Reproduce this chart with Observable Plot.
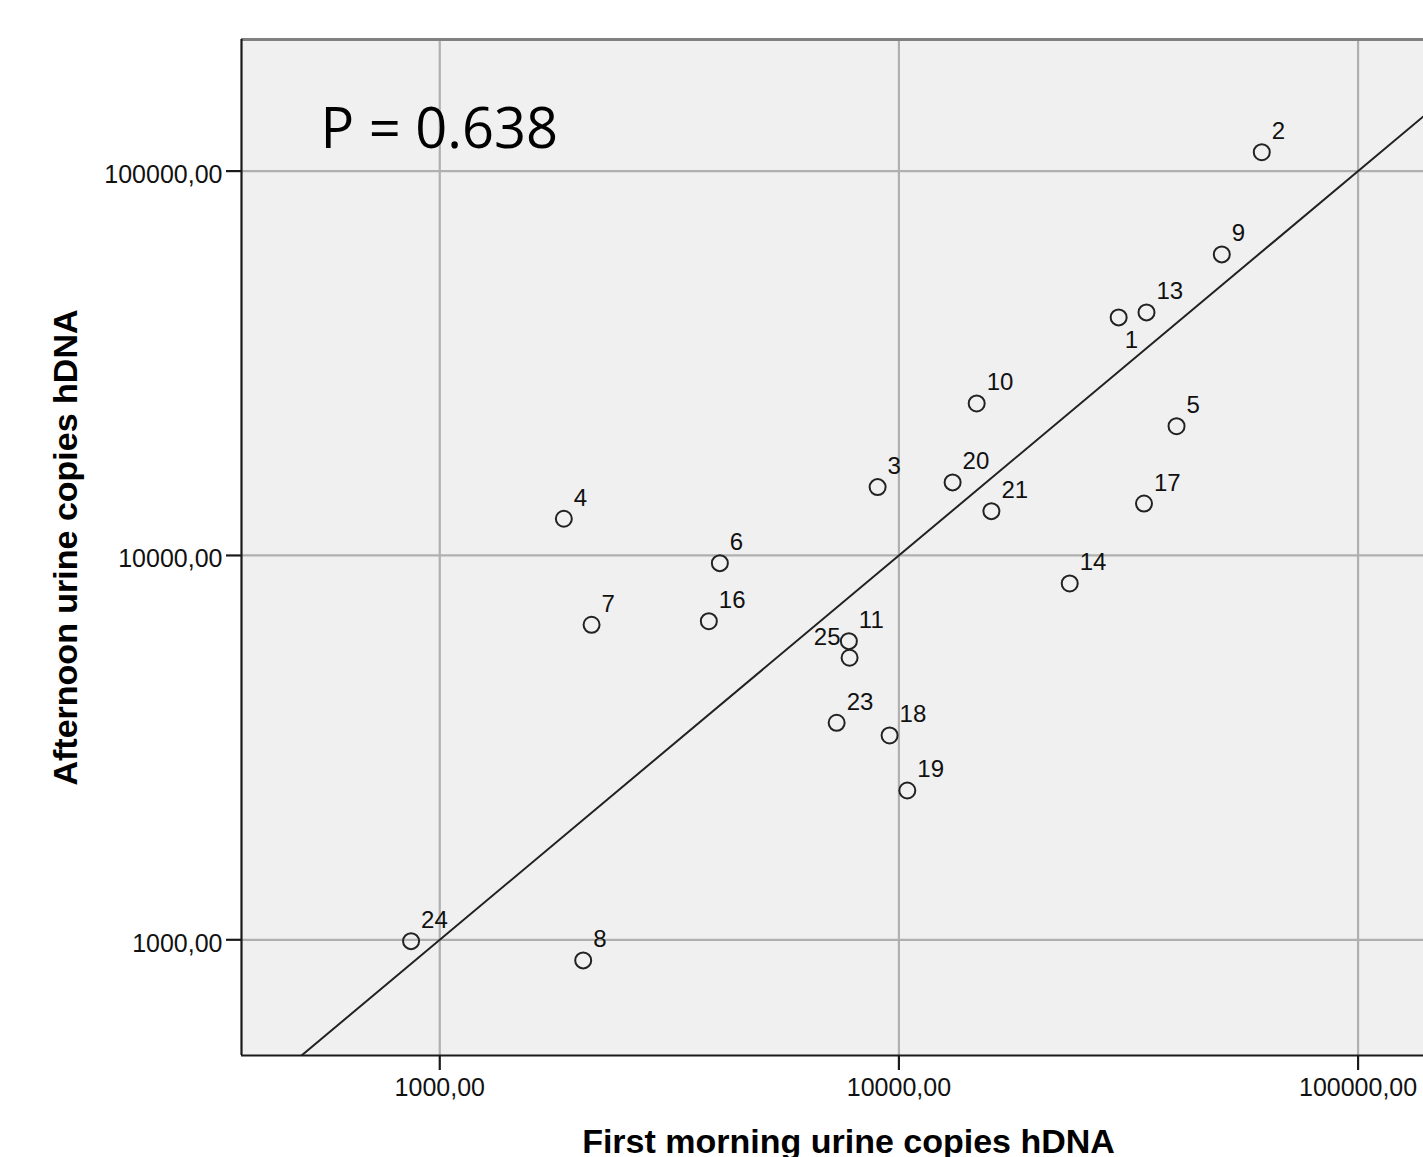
<!DOCTYPE html>
<html>
<head>
<meta charset="utf-8">
<script src="https://cdn.jsdelivr.net/npm/d3@7"></script>
<script src="https://cdn.jsdelivr.net/npm/@observablehq/plot@0.6"></script>
<style>
html, body { margin: 0; padding: 0; overflow: hidden; background: #fff; width: 1423px; height: 1157px; }
</style>
</head>
<body>
<div id="chart"></div>
<script>
// Case ids and values
const ids          = ["1", "2", "3", "4", "5", "6", "7", "8", "9", "10", "11", "13", "14", "16", "17", "18", "19", "20", "21", "23", "24", "25"];
const firstMorning = [30100, 61700, 8987, 1863, 40240, 4074, 2141, 2053, 50490, 14770, 7780, 34610, 23550, 3855, 34180, 9543, 10430, 13090, 15900, 7318, 866, 7808];
const afternoon    = [41630, 112000, 15060, 12460, 21690, 9550, 6602, 884, 60720, 24860, 5984, 42890, 8456, 6745, 13650, 3401, 2446, 15490, 13040, 3670, 992, 5418];

const xTicks = [1000, 10000, 100000];
const yTicks = [1000, 10000, 100000];
const xDomain = [370, 163000];
const yDomain = [500, 220000];

const pLabel = "P = 0.638";
const xTitle = "First morning urine copies hDNA";
const yTitle = "Afternoon urine copies hDNA";

// label placement groups (ids only)
const labelsBelowRight = ["1"];
const labelsUpperLeft = ["25"];

const points = ids.map((id, i) => ({id, x: firstMorning[i], y: afternoon[i]}));
const fmt = d => d3.format(".2f")(d).replace(".", ",");
const identity = yDomain.map(v => ({v}));

const defaultLabels = points.filter(d => !labelsBelowRight.includes(d.id) && !labelsUpperLeft.includes(d.id));
const belowLabels = points.filter(d => labelsBelowRight.includes(d.id));
const leftLabels = points.filter(d => labelsUpperLeft.includes(d.id));

const chart = Plot.plot({
  width: 1460,
  height: 1157,
  marginLeft: 241,
  marginRight: 5,
  marginTop: 39,
  marginBottom: 102,
  style: {fontFamily: "'Liberation Sans', Arial, sans-serif", background: "#fff", maxWidth: "none", overflow: "visible"},
  x: {type: "log", domain: xDomain, label: null},
  y: {type: "log", domain: yDomain, label: null},
  marks: [
    Plot.frame({fill: "#f0f0f0", stroke: null}),
    Plot.gridX(xTicks, {stroke: "#b0b0b0", strokeOpacity: 1, strokeWidth: 2.2}),
    Plot.gridY(yTicks, {stroke: "#b0b0b0", strokeOpacity: 1, strokeWidth: 2.2}),
    Plot.ruleY([yDomain[1]], {stroke: "#808080", strokeWidth: 3}),
    Plot.ruleX([xDomain[0]], {stroke: "#1a1a1a", strokeWidth: 2.2}),
    Plot.ruleY([yDomain[0]], {stroke: "#1a1a1a", strokeWidth: 2.2}),
    Plot.line(identity, {x: "v", y: "v", stroke: "#222", strokeWidth: 2, clip: true}),
    Plot.dot(points, {x: "x", y: "y", r: 8, stroke: "#222", strokeWidth: 2, fill: "none"}),
    Plot.text(defaultLabels, {x: "x", y: "y", text: "id", dx: 10, dy: -13, textAnchor: "start", lineAnchor: "bottom", fontSize: 24, fill: "#111"}),
    Plot.text(belowLabels, {x: "x", y: "y", text: "id", dx: 6, dy: 31, textAnchor: "start", lineAnchor: "bottom", fontSize: 24, fill: "#111"}),
    Plot.text(leftLabels, {x: "x", y: "y", text: "id", dx: -9, dy: -13, textAnchor: "end", lineAnchor: "bottom", fontSize: 24, fill: "#111"}),
    Plot.axisX(xTicks, {fill: "none", stroke: "#1a1a1a", strokeWidth: 2.2, tickSize: 15, label: null}),
    Plot.axisX(xTicks, {stroke: "none", fill: "#111", tickSize: 15, tickPadding: 8, tickFormat: fmt, fontSize: 25, label: null}),
    Plot.axisY(yTicks, {fill: "none", stroke: "#1a1a1a", strokeWidth: 2.2, tickSize: 15, label: null}),
    Plot.axisY(yTicks, {stroke: "none", fill: "#111", tickSize: 15, tickPadding: 4, tickFormat: fmt, fontSize: 25, dy: 4, label: null}),
    Plot.text([xTitle], {text: d => d, frameAnchor: "bottom", textAnchor: "middle", dy: 97, lineAnchor: "bottom", fontSize: 34, fontWeight: "bold", fill: "#000"}),
    Plot.text([yTitle], {text: d => d, frameAnchor: "left", textAnchor: "middle", dx: -165, rotate: -90, lineAnchor: "bottom", fontSize: 34, fontWeight: "bold", fill: "#000"}),
    Plot.text([pLabel], {text: d => d, frameAnchor: "top-left", dx: 79, dy: 108, textAnchor: "start", lineAnchor: "bottom", fontSize: 56, fontFamily: "'Open Sans', sans-serif", fill: "#000"})
  ]
});
document.getElementById("chart").appendChild(chart);
</script>
</body>
</html>
